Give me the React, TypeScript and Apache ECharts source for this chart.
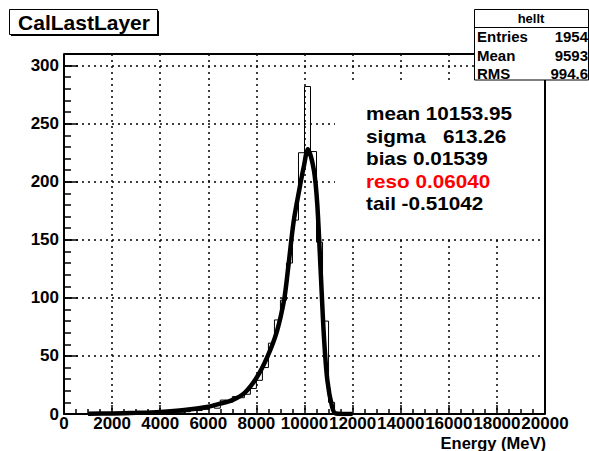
import React, { useEffect, useRef } from "react";
import * as echarts from "echarts";

// Histogram: 80 bins of 250 MeV from 0 to 20000
const binWidth = 250;
const counts = [
  0, 0, 0, 0, 0, 0, 0, 0, 0, 0,
  0, 0, 0, 0, 1, 0, 1, 1, 2, 1,
  2, 3, 3, 4, 7, 5, 12, 10, 15, 14,
  17, 22, 29, 40, 61, 81, 98, 130, 167, 225,
  282, 226, 148, 80, 10, 1, 0, 0, 0, 0,
  0, 0, 0, 0, 0, 0, 0, 0, 0, 0,
  0, 0, 0, 0, 0, 0, 0, 0, 0, 0,
  0, 0, 0, 0, 0, 0, 0, 0, 0, 0,
];

// Fitted curve
const curveX = [1000, 2000, 3000, 4000, 5000, 6000, 6500, 7000, 7500, 8000, 8450, 8850, 9150, 9300, 9550, 9800, 9970, 10140, 10390, 10530, 10670, 10810, 10950, 11150, 11300, 12000];
const curveY = [0.3, 0.5, 1, 1.8, 3.4, 6.3, 9, 12, 18, 31, 49, 71, 98, 122, 166, 195, 213, 228, 210, 181, 124, 66, 29, 6, 0.5, 0];

const xTicks = { min: 0, max: 20000, interval: 2000 };
const yTicks = { min: 0, max: 310, interval: 50 };

const fitLines = [
  { text: "mean 10153.95", color: "#000" },
  { text: "sigma   613.26", color: "#000" },
  { text: "bias 0.01539", color: "#000" },
  { text: "reso 0.06040", color: "#ff0000" },
  { text: "tail -0.51042", color: "#000" },
];

const statsTitle = "hellt";
const statsRows = [
  ["Entries", "1954"],
  ["Mean", "9593"],
  ["RMS", "994.6"],
];

const FONT = "'Liberation Sans', Arial, Helvetica, sans-serif";

export default function App() {
  const ref = useRef<HTMLDivElement>(null);
  useEffect(() => {
    document.body.style.margin = "0";
    if (!ref.current) return;
    const chart = echarts.init(ref.current, undefined, { renderer: "svg" });

    const histData: number[][] = counts.map((c, i) => [i * binWidth, c]);
    histData.push([counts.length * binWidth, counts[counts.length - 1]]);
    const curveData = curveX.map((x, i) => [x, curveY[i]]);

    const dotted = { color: "#000", width: 1.5, type: [2, 4] as number[] };

    const graphics: any[] = [];
    // white fit-parameter box
    graphics.push({ type: "rect", shape: { x: 335, y: 83, width: 208, height: 153 }, style: { fill: "#fff" }, z: 100 });
    fitLines.forEach((l, i) => {
      graphics.push({
        type: "text", x: 366, y: 114 + i * 22.4, scaleX: 1.15, z: 101,
        style: { text: l.text, fill: l.color, font: `bold 18px ${FONT}`, textVerticalAlign: "middle", textAlign: "left" },
      });
    });
    // title box
    graphics.push({ type: "rect", shape: { x: 11, y: 11, width: 148, height: 25 }, style: { fill: "#000" }, z: 100 });
    graphics.push({ type: "rect", shape: { x: 9.5, y: 9.5, width: 148, height: 25 }, style: { fill: "#fff", stroke: "#000", lineWidth: 1 }, z: 101 });
    graphics.push({
      type: "text", x: 84, y: 22.5, z: 102,
      style: { text: "CalLastLayer", fill: "#000", font: `bold 21px ${FONT}`, textAlign: "center", textVerticalAlign: "middle" },
    });
    // stats box
    graphics.push({ type: "rect", shape: { x: 474.5, y: 9.5, width: 114, height: 70.5 }, style: { fill: "#fff", stroke: "#000", lineWidth: 1 }, z: 100 });
    graphics.push({ type: "line", shape: { x1: 474.5, y1: 27.5, x2: 589, y2: 27.5 }, style: { stroke: "#000", lineWidth: 1 }, z: 101 });
    graphics.push({
      type: "text", x: 531, y: 18.5, z: 102,
      style: { text: statsTitle, fill: "#000", font: `bold 13px ${FONT}`, textAlign: "center", textVerticalAlign: "middle" },
    });
    statsRows.forEach((r, i) => {
      graphics.push({
        type: "text", x: 477, y: 36.5 + i * 18.5, z: 102,
        style: { text: r[0], fill: "#000", font: `bold 15px ${FONT}`, textAlign: "left", textVerticalAlign: "middle" },
      });
      graphics.push({
        type: "text", x: 588, y: 36.5 + i * 18.5, z: 102,
        style: { text: r[1], fill: "#000", font: `bold 15px ${FONT}`, textAlign: "right", textVerticalAlign: "middle" },
      });
    });
    // axis title
    graphics.push({
      type: "text", x: 546, y: 442.5, z: 102,
      style: { text: "Energy (MeV)", fill: "#000", font: `bold 16.5px ${FONT}`, textAlign: "right", textVerticalAlign: "middle" },
    });
    // frame top & right
    graphics.push({ type: "polyline", shape: { points: [[64, 54], [545, 54], [545, 414]] }, style: { stroke: "#000", lineWidth: 2, fill: null }, z: 50 });

    chart.setOption({
      animation: false,
      backgroundColor: "#fff",
      grid: { left: 64, right: 44, top: 54, bottom: 37 },
      xAxis: {
        type: "value", min: xTicks.min, max: xTicks.max, interval: xTicks.interval,
        axisLine: { show: true, lineStyle: { color: "#000", width: 2 } },
        axisTick: { show: true, inside: true, length: 9, lineStyle: { color: "#000", width: 1.5 } },
        minorTick: { show: true, splitNumber: 4, length: 5, lineStyle: { color: "#000", width: 1.5 } },
        splitLine: { show: true, lineStyle: dotted },
        axisLabel: {
          color: "#000", fontFamily: FONT, fontWeight: "bold", fontSize: 17, margin: 1,
          showMaxLabel: true, showMinLabel: true, hideOverlap: false,
          formatter: (v: number) => String(v),
        },
      },
      yAxis: [
        {
          type: "value", min: yTicks.min, max: yTicks.max, interval: yTicks.interval,
          axisLine: { show: true, lineStyle: { color: "#000", width: 2 } },
          axisTick: { show: true, inside: true, length: 14, lineStyle: { color: "#000", width: 1.5 } },
          splitLine: { show: true, lineStyle: dotted },
          axisLabel: {
            color: "#000", fontFamily: FONT, fontWeight: "bold", fontSize: 17, margin: 5, showMaxLabel: false,
            formatter: (v: number) => String(v),
          },
        },
        {
          type: "value", min: yTicks.min, max: yTicks.max, interval: 10, position: "left",
          axisLine: { show: false },
          axisTick: { show: true, inside: true, length: 7, lineStyle: { color: "#000", width: 1.5 } },
          splitLine: { show: false },
          axisLabel: { show: false },
        },
      ],
      series: [
        {
          type: "line", data: histData, step: "end", showSymbol: false, yAxisIndex: 0,
          lineStyle: { color: "#000", width: 1 }, z: 3,
        },
        {
          type: "line", data: curveData, smooth: 0.3, showSymbol: false, yAxisIndex: 0,
          lineStyle: { color: "#000", width: 4.5 }, z: 4,
        },
      ],
      graphic: graphics,
    });
    return () => chart.dispose();
  }, []);
  return <div ref={ref} style={{ width: 589, height: 451 }} />;
}
